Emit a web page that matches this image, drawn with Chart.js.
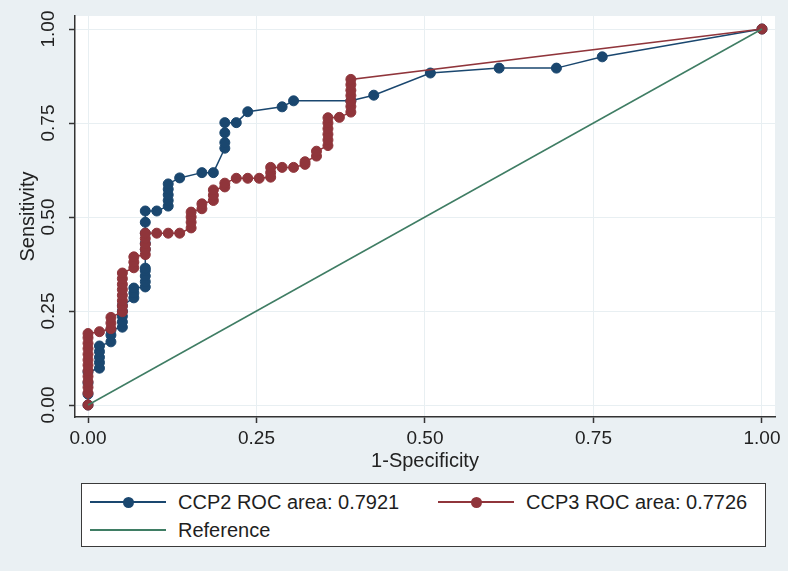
<!DOCTYPE html>
<html>
<head>
<meta charset="utf-8">
<title>ROC curves CCP2 / CCP3</title>
<script src="https://cdn.jsdelivr.net/npm/chart.js@4.4.0/dist/chart.umd.min.js"></script>
<style>
  html, body { margin: 0; padding: 0; background: #eaf0f3; }
  #wrap { position: relative; width: 788px; height: 571px; font-family: "Liberation Sans", Arial, sans-serif; }
  #rocChart { position: absolute; left: 0; top: 0; }
  .legendBox { position: absolute; left: 81px; top: 483px; width: 683px; height: 62px; background: #fff; border: 1.5px solid #3a3a3a; }
  .item { position: absolute; height: 24px; display: flex; align-items: center; font-size: 20px; color: #1e1e1e; white-space: nowrap; }
  .sample { position: relative; width: 76px; height: 24px; margin-right: 12px; }
  .sample .ln { position: absolute; left: 0; right: 0; top: 11px; height: 1.5px; }
  .sample .dot { position: absolute; left: 33px; top: 6.5px; width: 11px; height: 11px; border-radius: 50%; }
</style>
</head>
<body>
<div id="wrap">
  <canvas id="rocChart" width="788" height="571"></canvas>
  <div class="legendBox"></div>
  <div class="item" style="left:90px; top:490px;">
    <div class="sample"><div class="ln" style="background:#1a476f"></div><div class="dot" style="background:#1a476f"></div></div>
    <span>CCP2 ROC area: 0.7921</span>
  </div>
  <div class="item" style="left:438px; top:490px;">
    <div class="sample"><div class="ln" style="background:#90353b"></div><div class="dot" style="background:#90353b"></div></div>
    <span>CCP3 ROC area: 0.7726</span>
  </div>
  <div class="item" style="left:90px; top:518px;">
    <div class="sample"><div class="ln" style="background:#3f7d64"></div></div>
    <span>Reference</span>
  </div>
</div>
<script>
// valeurs (1-spécificité, sensibilité)
const ccp2X = [0, 0, 0, 0,
  0.017, 0.017, 0.017, 0.017, 0.017,
  0.034, 0.034, 0.034,
  0.051, 0.051, 0.051, 0.051, 0.051,
  0.068, 0.068, 0.068,
  0.085, 0.085, 0.085, 0.085, 0.085, 0.085, 0.085, 0.085, 0.085, 0.085,
  0.102,
  0.119, 0.119, 0.119, 0.119, 0.119,
  0.136, 0.169, 0.186,
  0.203, 0.203, 0.203, 0.203,
  0.220, 0.237, 0.288, 0.305, 0.390, 0.424, 0.508, 0.610, 0.695, 0.763, 1];
const ccp2Y = [0, 0.029, 0.059, 0.088,
  0.098, 0.113, 0.127, 0.142, 0.157,
  0.168, 0.186, 0.200,
  0.207, 0.221, 0.236, 0.250, 0.265,
  0.285, 0.298, 0.311,
  0.314, 0.328, 0.343, 0.357, 0.364, 0.414, 0.430, 0.457, 0.486, 0.516,
  0.516,
  0.529, 0.544, 0.559, 0.574, 0.588,
  0.604, 0.618, 0.618,
  0.683, 0.698, 0.724, 0.751,
  0.751, 0.780, 0.793, 0.809, 0.809, 0.824, 0.883, 0.896, 0.896, 0.926, 1];

const ccp3X = [0, 0, 0, 0, 0, 0, 0, 0, 0, 0, 0, 0, 0,
  0.017,
  0.034, 0.034, 0.034,
  0.051, 0.051, 0.051, 0.051, 0.051, 0.051, 0.051, 0.051,
  0.068, 0.068, 0.068,
  0.085, 0.085, 0.085, 0.085, 0.085,
  0.102, 0.119, 0.136,
  0.153, 0.153, 0.153, 0.153,
  0.169, 0.169,
  0.186, 0.186, 0.186,
  0.203, 0.203,
  0.220, 0.237, 0.254,
  0.271, 0.271, 0.271,
  0.288, 0.305,
  0.322, 0.322,
  0.339, 0.339,
  0.356, 0.356, 0.356, 0.356, 0.356, 0.356,
  0.373,
  0.390, 0.390, 0.390, 0.390, 0.390, 0.390, 0.390,
  1];
const ccp3Y = [0, 0.032, 0.047, 0.062, 0.076, 0.091, 0.106, 0.120, 0.135, 0.150, 0.164, 0.179, 0.190,
  0.195,
  0.203, 0.218, 0.233,
  0.248, 0.263, 0.277, 0.292, 0.307, 0.321, 0.336, 0.351,
  0.365, 0.380, 0.394,
  0.400, 0.414, 0.428, 0.443, 0.457,
  0.457, 0.457, 0.457,
  0.471, 0.486, 0.500, 0.513,
  0.522, 0.535,
  0.544, 0.558, 0.572,
  0.580, 0.590,
  0.603, 0.603, 0.603,
  0.606, 0.618, 0.632,
  0.632, 0.632,
  0.640, 0.647,
  0.662, 0.675,
  0.690, 0.705, 0.720, 0.735, 0.750, 0.764,
  0.765,
  0.779, 0.794, 0.808, 0.823, 0.837, 0.852, 0.866,
  1];

const refX = [0, 1];
const refY = [0, 1];

const tickValues = [0, 0.25, 0.5, 0.75, 1];
const tickLabels = ["0.00", "0.25", "0.50", "0.75", "1.00"];

const NAVY = "#1a476f";
const MAROON = "#90353b";
const GREEN = "#3f7d64";
const AXIS = "#333333";
const GRID = "#e8eff2";
const FONT = "'Liberation Sans', Arial, sans-serif";

const toPoints = (xs, ys) => xs.map((x, i) => ({ x: x, y: ys[i] }));

// fond blanc de la zone du graphique
const plotBg = {
  id: "plotBg",
  beforeDraw(chart) {
    const { ctx, chartArea: a } = chart;
    ctx.save();
    ctx.fillStyle = "#ffffff";
    ctx.fillRect(a.left, a.top, a.right - a.left, a.bottom - a.top);
    ctx.restore();
  }
};

const setTicks = scale => { scale.ticks = tickValues.map(v => ({ value: v })); };

new Chart(document.getElementById("rocChart"), {
  type: "scatter",
  data: {
    datasets: [
      {
        label: "CCP2 ROC area: 0.7921",
        data: toPoints(ccp2X, ccp2Y),
        showLine: true,
        borderColor: NAVY,
        backgroundColor: NAVY,
        borderWidth: 1.5,
        pointRadius: 5,
        pointBorderWidth: 1,
        order: 3
      },
      {
        label: "CCP3 ROC area: 0.7726",
        data: toPoints(ccp3X, ccp3Y),
        showLine: true,
        borderColor: MAROON,
        backgroundColor: MAROON,
        borderWidth: 1.5,
        pointRadius: 5,
        pointBorderWidth: 1,
        order: 2
      },
      {
        label: "Reference",
        data: toPoints(refX, refY),
        showLine: true,
        borderColor: GREEN,
        backgroundColor: GREEN,
        borderWidth: 1.5,
        pointRadius: 0,
        order: 1
      }
    ]
  },
  options: {
    responsive: false,
    animation: false,
    events: [],
    clip: false,
    layout: { padding: { left: 0, top: 16, right: 13, bottom: 94 } },
    plugins: { legend: { display: false }, tooltip: { enabled: false } },
    scales: {
      x: {
        type: "linear",
        min: -0.0193,
        max: 1.0193,
        afterBuildTicks: setTicks,
        afterFit: s => { s.height = 60; },
        ticks: {
          callback: (v, i) => tickLabels[i],
          font: { family: FONT, size: 19 },
          color: "#222",
          padding: 4,
          maxRotation: 0,
          autoSkip: false
        },
        grid: { color: GRID, lineWidth: 1, tickLength: 6, tickColor: AXIS, tickWidth: 1.5 },
        border: { color: AXIS, width: 1.5 },
        title: {
          display: true,
          text: "1-Specificity",
          font: { family: FONT, size: 20 },
          color: "#222",
          padding: { top: 0, bottom: 4 }
        }
      },
      y: {
        type: "linear",
        min: -0.0319,
        max: 1.0346,
        afterBuildTicks: setTicks,
        afterFit: s => { s.width = 75; },
        ticks: {
          callback: (v, i) => tickLabels[i],
          font: { family: FONT, size: 19 },
          color: "#222",
          padding: 2,
          minRotation: 90,
          maxRotation: 90,
          crossAlign: "center",
          autoSkip: false
        },
        grid: { color: GRID, lineWidth: 1, tickLength: 6, tickColor: AXIS, tickWidth: 1.5 },
        border: { color: AXIS, width: 1.5 },
        title: {
          display: true,
          text: "Sensitivity",
          font: { family: FONT, size: 20 },
          color: "#222",
          padding: { top: 16, bottom: 0 }
        }
      }
    }
  },
  plugins: [plotBg]
});
</script>
</body>
</html>
